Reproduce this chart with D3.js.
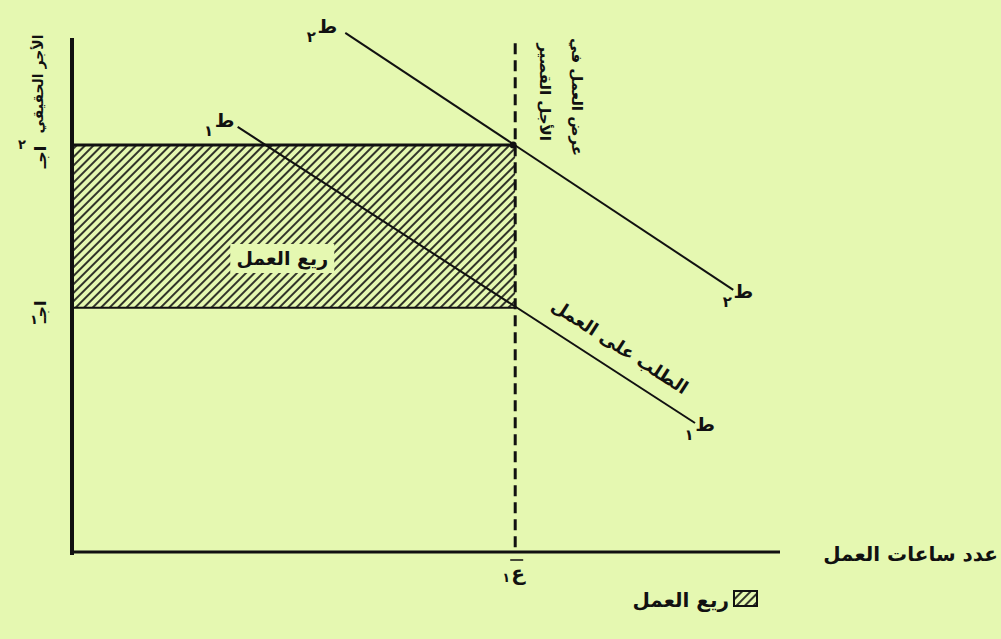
<!DOCTYPE html>
<html><head><meta charset="utf-8">
<script src="https://cdn.jsdelivr.net/npm/d3@7"></script>
<style>
html,body{margin:0;padding:0;background:#e5f8b1;}
svg{display:block;}
text{font-family:"DejaVu Sans",sans-serif;fill:#111;}
</style></head><body>
<svg id="c" width="1001" height="639"></svg>
<script>
// ---- data ----
const wageTicks = [47.5, 79.2];          // اجـ١ , اجـ٢
const wageSubs = ["١", "٢"];
const laborHours = [62.6];               // ع١
const hourSubs = ["١"];
const demandSubs = ["١", "٢"];           // ط١ , ط٢
const demandX = [[23.4, 88.0], [38.6, 93.4]];
const demandY = [[82.7, 25.1], [101.0, 51.0]];
const yTitle = "الأجر الحقيقي";
const xTitle = "عدد ساعات العمل";
const supplyLabel = ["عرض العمل في", "الأجل القصير"];
const demandLabel = "الطلب على العمل";
const rentLabel = "ريع العمل";

const bg = "#e5f8b1";
const svg = d3.select("#c");
const x = d3.scaleLinear().domain([0, 100]).range([72, 780]);
const y = d3.scaleLinear().domain([0, 100]).range([552, 38]);

// hatch pattern
const defs = svg.append("defs");
const pat = defs.append("pattern").attr("id", "hatch").attr("patternUnits", "userSpaceOnUse")
  .attr("width", 6).attr("height", 6).attr("patternTransform", "rotate(45)");
pat.append("rect").attr("width", 6).attr("height", 6).attr("fill", bg);
pat.append("line").attr("x1", 1).attr("y1", 0).attr("x2", 1).attr("y2", 6)
  .attr("stroke", "#111").attr("stroke-width", 1.7);

// rent rectangle
svg.append("rect")
  .attr("x", x(0)).attr("y", y(wageTicks[1]))
  .attr("width", x(laborHours[0]) - x(0))
  .attr("height", y(wageTicks[0]) - y(wageTicks[1]))
  .attr("fill", "url(#hatch)");
svg.selectAll(".wl").data(wageTicks).enter().append("line")
  .attr("x1", x(0)).attr("x2", x(laborHours[0]))
  .attr("y1", d => y(d)).attr("y2", d => y(d))
  .attr("stroke", "#111").attr("stroke-width", (d, i) => i ? 3 : 2);

// label box in rectangle
const cx = x(29.7), cy = y(57.2);
svg.append("rect").attr("x", cx - 52).attr("y", cy - 14).attr("width", 104).attr("height", 29).attr("fill", bg);
svg.append("text").attr("x", cx).attr("y", cy + 7).attr("text-anchor", "middle")
  .attr("font-size", 19).attr("font-weight", "bold").attr("direction", "rtl").text(rentLabel);

// demand lines
const line = d3.line().x(d => x(d[0])).y(d => y(d[1]));
demandX.forEach((xs, i) => {
  svg.append("path").datum([[xs[0], demandY[i][0]], [xs[1], demandY[i][1]]])
    .attr("d", line).attr("stroke", "#111").attr("stroke-width", 2).attr("fill", "none");
  [[xs[0], demandY[i][0]], [xs[1], demandY[i][1]]].forEach((p, k) => {
    const px = x(p[0]), py = y(p[1]);
    const ox = k === 0 ? (i ? -18 : -13) : 10, oy = k === 0 ? 0 : 8;
    svg.append("text").attr("x", px + ox).attr("y", py + oy).attr("text-anchor", "middle")
      .attr("font-size", 19).attr("font-weight", "bold").text("ط");
    svg.append("text").attr("x", px + ox - 16).attr("y", py + oy + 9).attr("text-anchor", "middle")
      .attr("font-size", 15).attr("font-weight", "bold").text(demandSubs[i]);
  });
});

// demand label along line 1
const ang = Math.atan2(y(demandY[0][1]) - y(demandY[0][0]), x(demandX[0][1]) - x(demandX[0][0])) * 180 / Math.PI;
const lx = x(75.6), ly = y(demandY[0][0] + (75.6 - demandX[0][0]) * (demandY[0][1] - demandY[0][0]) / (demandX[0][1] - demandX[0][0]));
svg.append("text").attr("transform", `translate(${lx},${ly}) rotate(${ang}) translate(0,-17)`)
  .attr("text-anchor", "middle").attr("font-size", 18).attr("font-weight", "bold")
  .attr("direction", "rtl").text(demandLabel);

// dashed supply line
svg.append("line").attr("x1", x(laborHours[0])).attr("x2", x(laborHours[0]))
  .attr("y1", y(99)).attr("y2", y(0))
  .attr("stroke", "#111").attr("stroke-width", 3).attr("stroke-dasharray", "11,6");
svg.append("circle").attr("cx", x(laborHours[0]) - 2).attr("cy", y(wageTicks[1])).attr("r", 3.5).attr("fill", "#111");

// supply label (rotated, two columns)
supplyLabel.forEach((t, i) => {
  const tx = x(laborHours[0]) + (i === 0 ? 57 : 25);
  svg.append("text").attr("transform", `translate(${tx},${i === 0 ? 97 : 92}) rotate(90)`)
    .attr("text-anchor", "middle").attr("font-size", 15).attr("font-weight", "bold")
    .attr("direction", "rtl").text(t);
});

// axes
svg.append("line").attr("x1", x(0)).attr("x2", x(0)).attr("y1", y(100)).attr("y2", y(0) + 3)
  .attr("stroke", "#111").attr("stroke-width", 4);
svg.append("line").attr("x1", x(0) - 2).attr("x2", x(100)).attr("y1", y(0)).attr("y2", y(0))
  .attr("stroke", "#111").attr("stroke-width", 3);

// y title
svg.append("text").attr("transform", `translate(${x(0) - 29},84) rotate(-90)`)
  .attr("text-anchor", "middle").attr("font-size", 14).attr("font-weight", "bold")
  .attr("direction", "rtl").text(yTitle);
// y tick labels
wageTicks.forEach((w, i) => {
  svg.append("text").attr("transform", `translate(${x(0) - 26},${y(w) + (i ? 12 : 4)}) rotate(-90)`)
    .attr("text-anchor", "middle").attr("font-size", 16).attr("font-weight", "bold").text("اجـ");
  svg.append("text").attr("x", i ? 22 : 34).attr("y", y(w) + (i ? 4 : 16)).attr("text-anchor", "middle")
    .attr("font-size", 13).attr("font-weight", "bold").text(wageSubs[i]);
});

// x tick label
laborHours.forEach((h, i) => {
  svg.append("text").attr("x", x(h) + 3).attr("y", y(0) + 28).attr("text-anchor", "middle")
    .attr("font-size", 20).attr("font-weight", "bold").text("ع");
  svg.append("line").attr("x1", x(h) - 5).attr("x2", x(h) + 8).attr("y1", y(0) + 8).attr("y2", y(0) + 8)
    .attr("stroke", "#111").attr("stroke-width", 1.5);
  svg.append("text").attr("x", x(h) - 9).attr("y", y(0) + 30).attr("text-anchor", "middle")
    .attr("font-size", 13).attr("font-weight", "bold").text(hourSubs[i]);
});

// x title
svg.append("text").attr("x", 998).attr("y", y(0) + 9).attr("text-anchor", "end")
  .attr("font-size", 20).attr("font-weight", "bold").attr("direction", "ltr").text(xTitle);

// legend
svg.append("rect").attr("x", 734).attr("y", 591).attr("width", 23).attr("height", 15)
  .attr("fill", "url(#hatch)").attr("stroke", "#111").attr("stroke-width", 2);
svg.append("text").attr("x", 729).attr("y", 607).attr("text-anchor", "end")
  .attr("font-size", 20).attr("font-weight", "bold").attr("direction", "ltr").text(rentLabel);
</script>
</body></html>
